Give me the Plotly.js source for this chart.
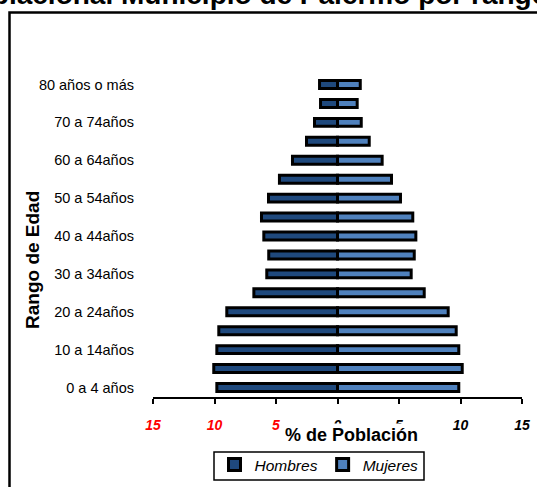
<!DOCTYPE html>
<html>
<head>
<meta charset="utf-8">
<script src="https://cdn.plot.ly/plotly-3.0.1.min.js"></script>
<style>html,body{margin:0;padding:0;background:#fff;}#chart{width:537px;height:487px;}</style>
</head>
<body>
<div id="chart"></div>
<script>
// Age groups, bottom to top
const categories = ["0 a 4 años","5 a 9años","10 a 14años","15 a 19años","20 a 24años","25 a 29años","30 a 34años","35 a 39años","40 a 44años","45 a 49años","50 a 54años","55 a 59años","60 a 64años","65 a 69años","70 a 74años","75 a 79años","80 años o más"];
// % of population (absolute values)
const hombres = [9.81,10.06,9.81,9.65,9.0,6.8,5.75,5.59,5.99,6.18,5.61,4.72,3.66,2.52,1.87,1.38,1.46];
const mujeres = [9.86,10.14,9.86,9.65,9.0,7.05,5.99,6.24,6.37,6.12,5.12,4.39,3.63,2.58,1.93,1.60,1.85];
// Only every second age group is labelled
const yTickLabels = ["0 a 4 años","10 a 14años","20 a 24años","30 a 34años","40 a 44años","50 a 54años","60 a 64años","70 a 74años","80 años o más"];
const xTickVals = [-15,-10,-5,0,5,10,15];
const xTickLabels = ["15","10","5","0","5","10","15"];

const titleText = "Pirámide Poblacional Municipio de Palermo por rango de edad";

const W = 537, H = 487;
const L = 153, R = 522, T = 75, B = 397;
const px = x => (x - L) / (R - L);
const py = y => (B - y) / (B - T);

const traces = [
  {type:'bar', orientation:'h', name:'Hombres', y:categories, x:hombres.map(v => -v),
   marker:{color:'#1F497D', line:{color:'#000', width:3}}, hoverinfo:'skip'},
  {type:'bar', orientation:'h', name:'Mujeres', y:categories, x:mujeres,
   marker:{color:'#4F81BD', line:{color:'#000', width:3}}, hoverinfo:'skip'}
];

const layout = {
  width:W, height:H,
  margin:{l:L, r:W-R, t:T, b:H-B, pad:0, autoexpand:false},
  paper_bgcolor:'#fff', plot_bgcolor:'#fff',
  barmode:'relative', bargap:0.58,
  showlegend:true,
  legend:{orientation:'h', xref:'container', yref:'container', x:319/W, y:(H-448)/H,
    xanchor:'center', yanchor:'top',
    borderwidth:0, bgcolor:'rgba(0,0,0,0)',
    font:{family:'Liberation Sans, Arial, sans-serif', size:15.5, style:'italic', color:'#000'},
    itemclick:false, traceorder:'normal'},
  xaxis:{range:[-15,15], tickvals:xTickVals,
    ticktext:xTickLabels.map((t,i) => xTickVals[i] < 0 ? '<span style="color:#ff0000">'+t+'</span>' : t),
    showgrid:false, zeroline:false, showline:true, linecolor:'#000', linewidth:2,
    ticks:'outside', ticklen:5, tickwidth:2, tickcolor:'#000', ticklabelstandoff:9,
    tickfont:{family:'Liberation Sans, Arial, sans-serif', size:14, style:'italic', weight:'bold', color:'#000'},
    fixedrange:true, automargin:false},
  yaxis:{type:'category', categoryorder:'array', categoryarray:categories,
    tickvals:yTickLabels, ticktext:yTickLabels,
    showgrid:false, zeroline:false, showline:false, ticks:'', ticklabelstandoff:18,
    tickfont:{family:'Liberation Sans, Arial, sans-serif', size:14.5, color:'#000'},
    fixedrange:true, automargin:false},
  annotations:[
    {text:titleText, xref:'paper', yref:'paper', x:px(-172), y:py(-5), xanchor:'left', yanchor:'middle',
     showarrow:false, font:{family:'Liberation Sans, Arial, sans-serif', size:28, weight:'bold', color:'#000'}},
    {text:'% de Población', xref:'paper', yref:'paper', x:px(351), y:py(435), xanchor:'center', yanchor:'middle',
     showarrow:false, bgcolor:'#fff', borderpad:1,
     font:{family:'Liberation Sans, Arial, sans-serif', size:18, weight:'bold', color:'#000'}},
    {text:'Rango de Edad', xref:'paper', yref:'paper', x:px(32), y:py(260), xanchor:'center', yanchor:'middle',
     textangle:-90, showarrow:false,
     font:{family:'Liberation Sans, Arial, sans-serif', size:19, weight:'bold', color:'#000'}}
  ],
  shapes:[
    {type:'path', xref:'paper', yref:'paper', layer:'above',
     path:'M'+px(9.5)+','+py(495)+' L'+px(9.5)+','+py(12.5)+' L'+px(545)+','+py(12.5),
     line:{color:'#000', width:2.5}},
    {type:'rect', xref:'paper', yref:'paper', layer:'below',
     x0:px(214), x1:px(424), y0:py(452), y1:py(480),
     line:{color:'#000', width:1.5}, fillcolor:'#fff'}
  ]
};

Plotly.newPlot('chart', traces, layout, {staticPlot:true, displayModeBar:false});
</script>
</body>
</html>
